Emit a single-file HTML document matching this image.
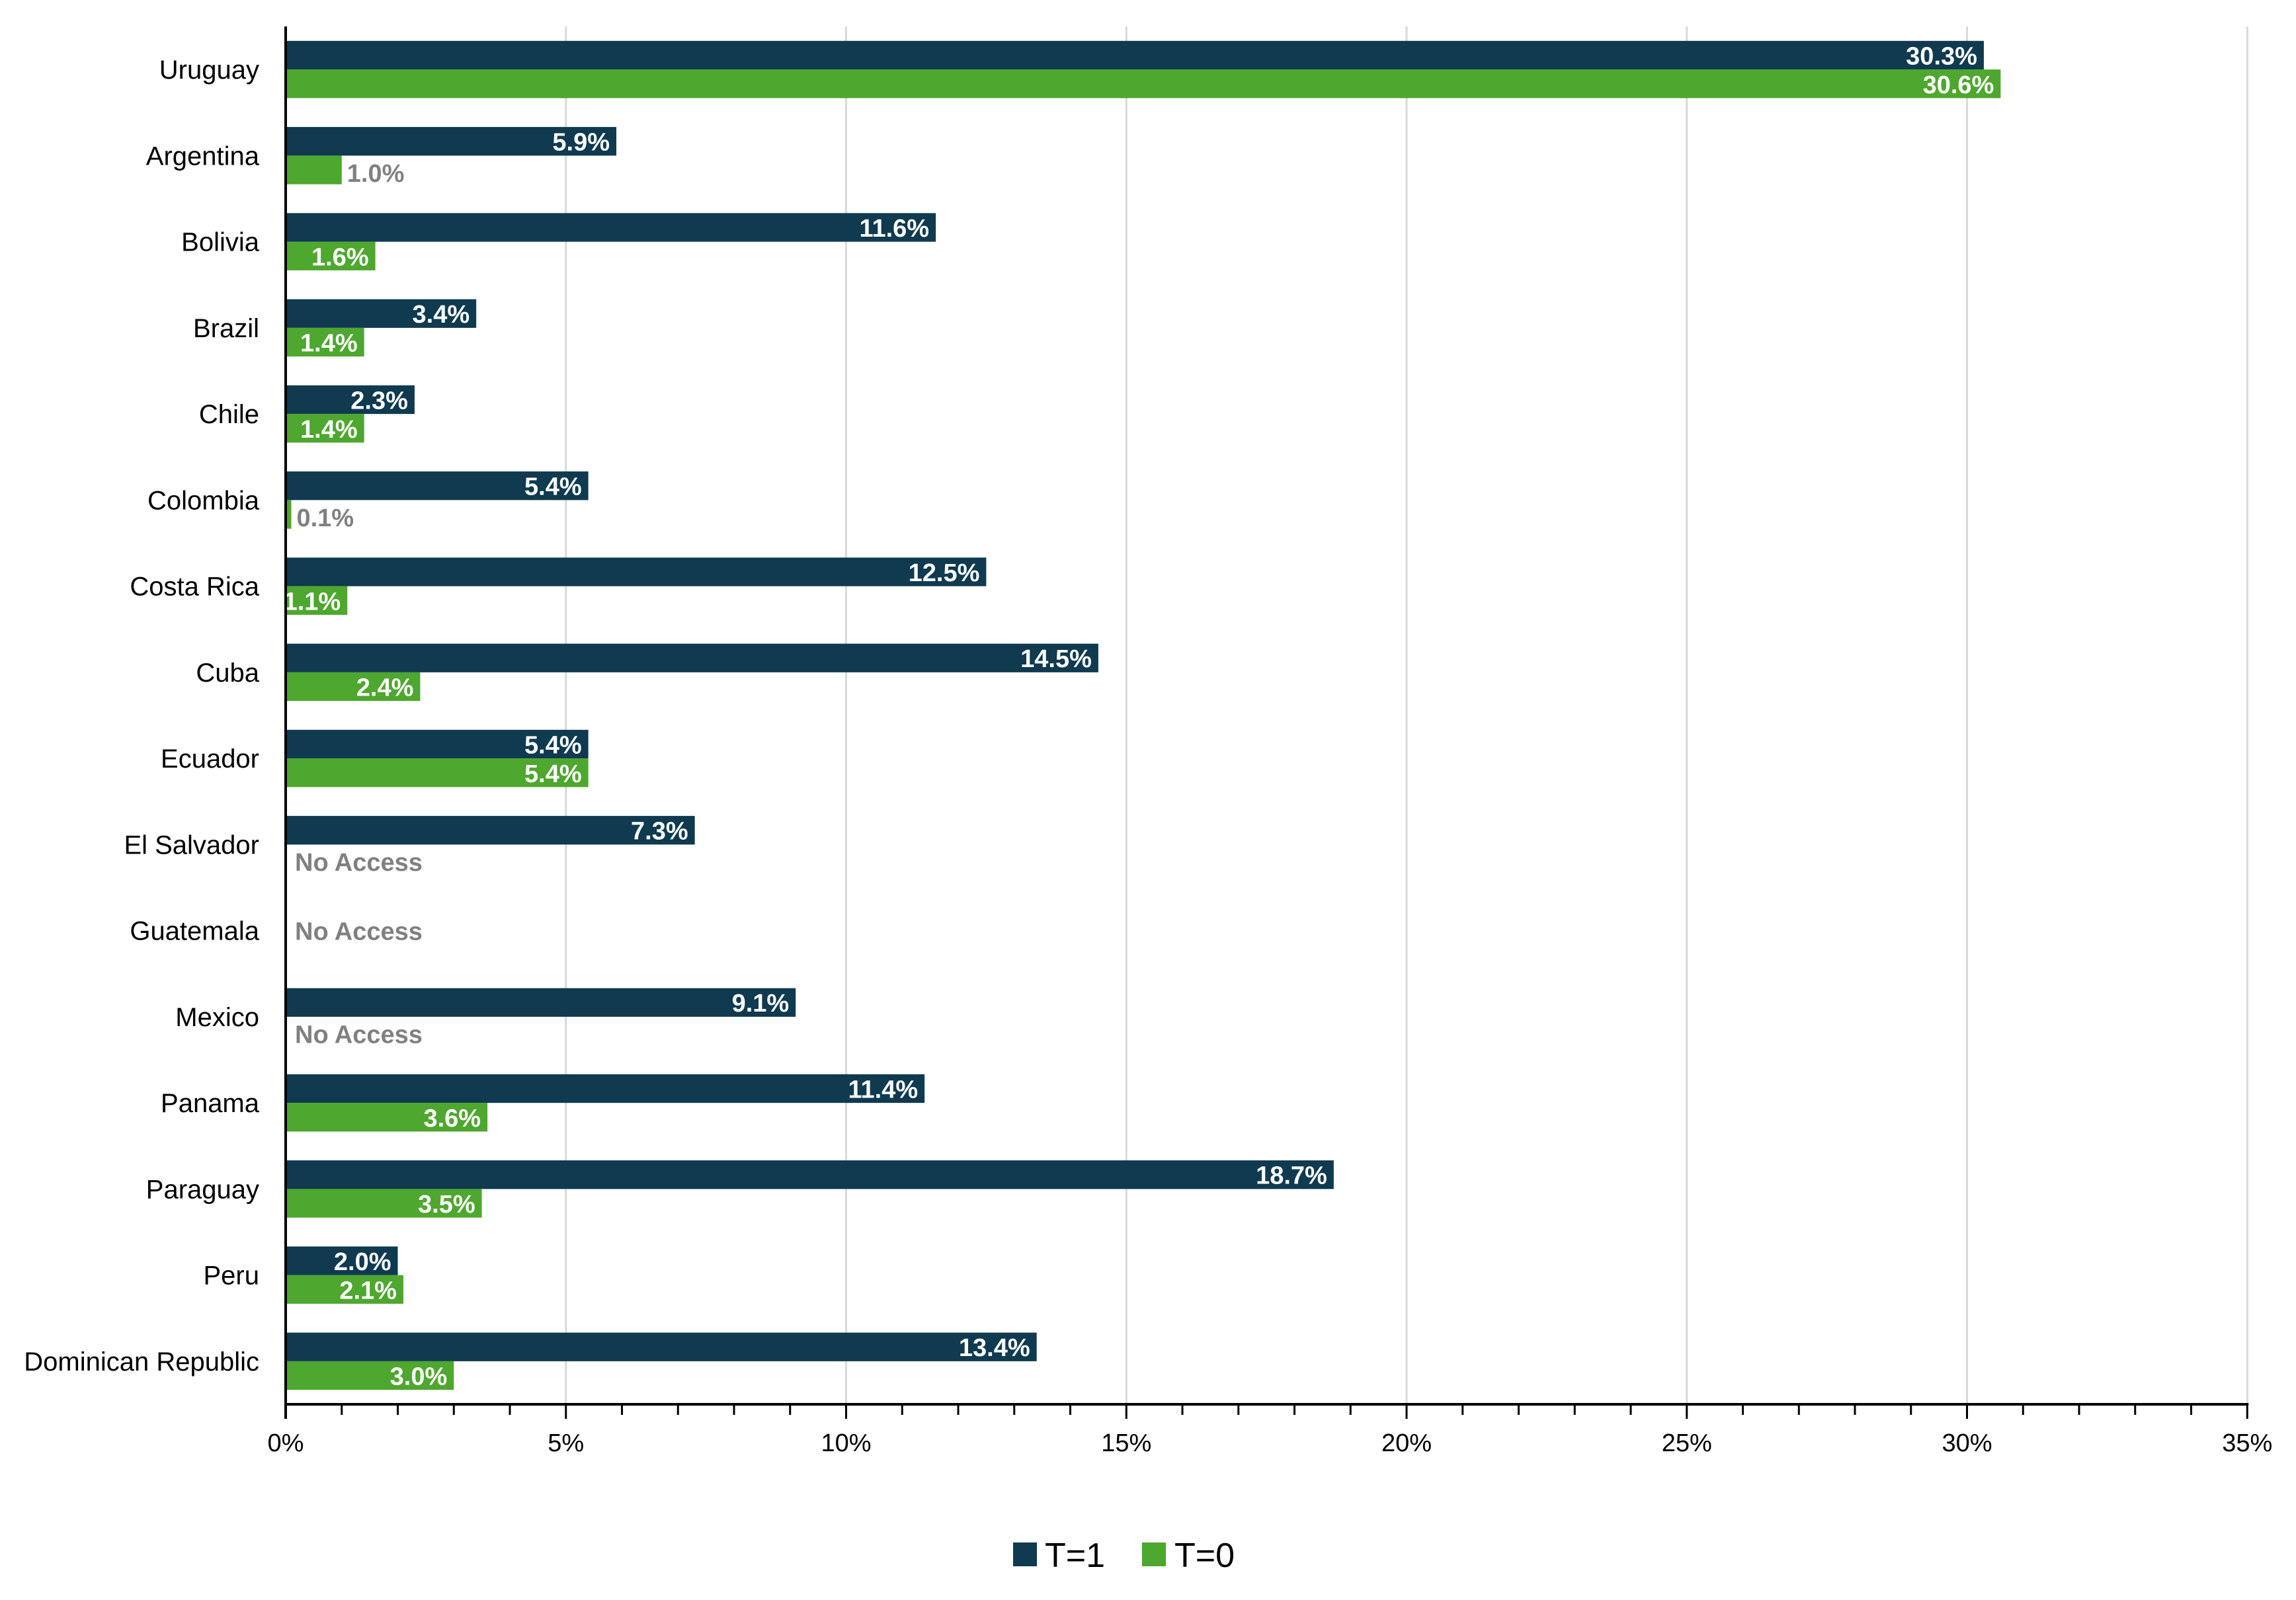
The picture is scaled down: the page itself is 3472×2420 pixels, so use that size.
<!DOCTYPE html>
<html><head><meta charset="utf-8"><style>
html,body{margin:0;padding:0;background:#fff;}
svg{display:block;font-family:"Liberation Sans Narrow","Liberation Sans",sans-serif;}
</style></head><body>
<svg id="chart" width="3472" height="2420" viewBox="0 0 3472 2420" xmlns="http://www.w3.org/2000/svg">
<g id="grid"></g>
<g id="bars"></g>
<g id="axes"></g>
<g id="legend">
  <rect x="1532" y="2333" width="36" height="36" fill="#0f3a50"/>
  <text x="1580" y="2370" font-size="52" fill="#000">T=1</text>
  <rect x="1727" y="2333" width="36" height="36" fill="#4ea72e"/>
  <text x="1776" y="2370" font-size="52" fill="#000">T=0</text>
</g>
</svg>
<script>
const categories = ["Uruguay","Argentina","Bolivia","Brazil","Chile","Colombia","Costa Rica","Cuba","Ecuador","El Salvador","Guatemala","Mexico","Panama","Paraguay","Peru","Dominican Republic"];
const t1Values = [30.3,5.9,11.6,3.4,2.3,5.4,12.5,14.5,5.4,7.3,null,9.1,11.4,18.7,2.0,13.4];
const t0Values = [30.6,1.0,1.6,1.4,1.4,0.1,1.1,2.4,5.4,null,null,null,3.6,3.5,2.1,3.0];
const xTicks = [0,5,10,15,20,25,30,35];

const NS = "http://www.w3.org/2000/svg";
const X0 = 432, PX_PER = 84.75, TOP = 40, AXIS_Y = 2124;
const band = (AXIS_Y - TOP) / categories.length;
const barH = 43.3;
const x = v => X0 + v * PX_PER;
const yBand = i => TOP + i * band;
function mk(tag, attrs, parent){const e=document.createElementNS(NS,tag);for(const k in attrs)e.setAttribute(k,attrs[k]);parent.appendChild(e);return e;}
const grid=document.getElementById('grid'), bars=document.getElementById('bars'), axes=document.getElementById('axes');

xTicks.forEach(t=>{
  if(t>0){
    const l=mk('line',{x1:x(t),x2:x(t),y1:TOP,y2:AXIS_Y,stroke:'#d9d9d9','stroke-width':3},grid);
    
    
  }
  const tx=mk('text',{x:x(t),y:2195,'font-size':38,'text-anchor':'middle',fill:'#000'},axes);
  tx.textContent=t+'%';
  
  
});
for(let m=0;m<=35;m++){
  const major=m%5===0;
  const tk=mk('line',{x1:x(m),x2:x(m),y1:AXIS_Y,y2:AXIS_Y+(major?22:16),stroke:'#000','stroke-width':3},axes);
  
  
}

function label(txt,xp,y,anchor,color,name){
  const t=mk('text',{x:xp,y:y+14,'font-size':38,'font-weight':'bold','text-anchor':anchor,fill:color},bars);
  t.textContent=txt;
  
  
}

categories.forEach((c,i)=>{
  const y0=yBand(i)+(band-2*barH)/2;
  const cl=mk('text',{x:392,y:yBand(i)+band/2+14,'font-size':40,'text-anchor':'end',fill:'#000'},axes);
  cl.textContent=c;
  
  
  const v1=t1Values[i], v0=t0Values[i];
  if(v1!=null){
    const r=mk('rect',{x:X0,y:y0,width:x(v1)-X0,height:barH,fill:'#0f3a50'},bars);
    
    
    label(v1.toFixed(1)+'%',x(v1)-10,y0+barH/2,'end','#fff','data-label-t1');
  }
  if(v0!=null){
    const r=mk('rect',{x:X0,y:y0+barH,width:x(v0)-X0,height:barH,fill:'#4ea72e'},bars);
    
    
    if(v0<1.05) label(v0.toFixed(1)+'%',x(v0)+8,y0+barH*1.5+4,'start','#808080','data-label-t0');
    else label(v0.toFixed(1)+'%',x(v0)-10,y0+barH*1.5,'end','#fff','data-label-t0');
  } else {
    const yy = v1==null ? yBand(i)+band/2 : y0+barH*1.5+4;
    label('No Access',446,yy,'start','#808080','no-access-label');
  }
});

const ya=mk('line',{x1:X0,x2:X0,y1:TOP,y2:AXIS_Y+22,stroke:'#000','stroke-width':4},axes);


const xa=mk('line',{x1:X0-2,x2:x(35)+2,y1:AXIS_Y,y2:AXIS_Y,stroke:'#000','stroke-width':4},axes);


</script>
</body></html>
